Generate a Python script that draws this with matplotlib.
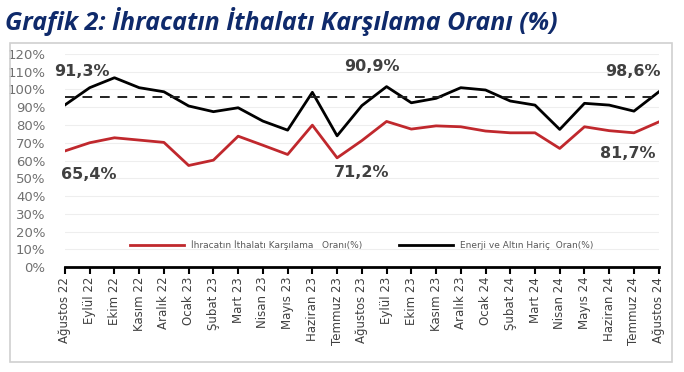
import matplotlib.pyplot as plt
from matplotlib.patches import Rectangle
from matplotlib.ticker import FuncFormatter

months = ["Ağustos 22", "Eylül 22", "Ekim 22", "Kasım 22", "Aralık 22",
          "Ocak 23", "Şubat 23", "Mart 23", "Nisan 23", "Mayıs 23",
          "Haziran 23", "Temmuz 23", "Ağustos 23", "Eylül 23", "Ekim 23",
          "Kasım 23", "Aralık 23", "Ocak 24", "Şubat 24", "Mart 24",
          "Nisan 24", "Mayıs 24", "Haziran 24", "Temmuz 24", "Ağustos 24"]

ratio = [65.4, 70.0, 72.8, 71.5, 70.2, 57.2, 60.2, 73.7, 68.6, 63.4,
         79.9, 61.5, 71.2, 82.0, 77.7, 79.5, 79.0, 76.6, 75.6, 75.6,
         66.8, 79.0, 76.8, 75.6, 81.7]

ratio_ex = [91.3, 101.0, 106.6, 101.0, 98.7, 90.7, 87.5, 89.7, 82.2, 77.1,
            98.4, 73.9, 90.9, 101.6, 92.5, 95.0, 101.0, 99.7, 93.5, 91.2,
            77.5, 92.2, 91.2, 87.8, 98.6]

ref_level = 96.0

fig = plt.figure(figsize=(6.84, 3.72), dpi=100)
ax = fig.add_axes([0.095, 0.282, 0.868, 0.573])

# frame round the chart
fig.patches.append(Rectangle((0.0146, 0.027), 0.968, 0.858, transform=fig.transFigure,
                             fill=False, edgecolor="#d0d0d0", linewidth=1.2))

fig.text(0.008, 0.943, "Grafik 2: İhracatın İthalatı Karşılama Oranı (%)",
         fontsize=18, fontweight="bold", fontstyle="italic", family="Open Sans",
         color="#0f2a6b", va="center", ha="left")

x = list(range(len(months)))
ax.plot(x, ratio, color="#c0282d", lw=2, label="İhracatın İthalatı Karşılama   Oranı(%)")
ax.plot(x, ratio_ex, color="black", lw=2, label="Enerji ve Altın Hariç  Oran(%)")
ax.axhline(ref_level, color="#222222", lw=1.4, ls=(0, (5, 4)))

ax.set_xlim(0, len(months) - 1)
ax.set_ylim(0, 120)
ax.set_yticks(range(0, 121, 10))
ax.yaxis.set_major_formatter(FuncFormatter(lambda v, p: f"{int(v)}%"))
ax.grid(axis="y", color="#eeeeee", lw=0.8)
ax.set_axisbelow(True)

ax.set_xticks(x)
ax.set_xticklabels(months, rotation=90, fontsize=8.5, color="#404040")
ax.tick_params(axis="x", length=5, width=1.5, color="black", direction="out", pad=2)
ax.tick_params(axis="y", length=0, labelsize=9.5, labelcolor="#707070", pad=14)
for s in ["top", "right", "left"]:
    ax.spines[s].set_visible(False)
ax.spines["bottom"].set_linewidth(2)
ax.spines["bottom"].set_color("black")

lab = dict(fontsize=11.5, fontweight="bold", color="#404040", ha="center", va="center")
ax.text(0.7, 109.9, "91,3%", **lab)
ax.text(0.97, 52.4, "65,4%", **lab)
ax.text(12.4, 112.7, "90,9%", **lab)
ax.text(12.0, 53.5, "71,2%", **lab)
ax.text(22.95, 109.9, "98,6%", **lab)
ax.text(22.75, 64.2, "81,7%", **lab)

ax.legend(loc="center", bbox_to_anchor=(0.5, 0.103), ncol=2, frameon=False,
          fontsize=6.5, labelcolor="#595959", handlelength=6, columnspacing=4)

fig.savefig("out.png", dpi=100)
